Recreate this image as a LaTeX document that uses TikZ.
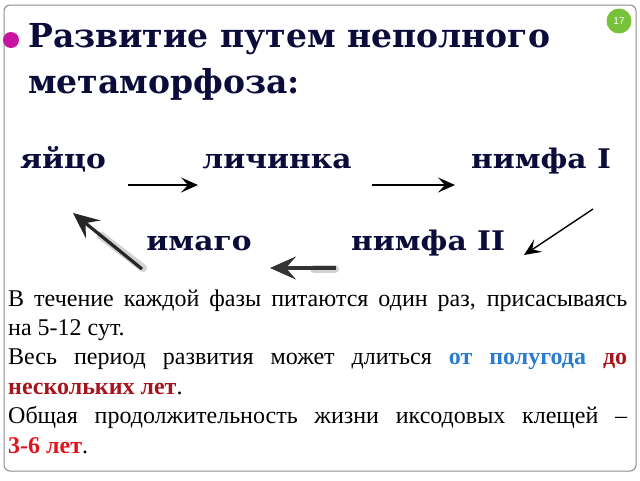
\documentclass[tikz,border=0pt]{standalone}
\usepackage{fontspec}
\setmainfont{Liberation Serif}
\newfontfamily\bodyfont{Liberation Serif}
\newfontfamily\titlefont{DejaVu Serif}
\newfontfamily\numfont{Liberation Sans}
\usetikzlibrary{arrows.meta,calc}
\definecolor{navy}{HTML}{0C0C3A}
\definecolor{framegray}{HTML}{8C8C8C}
\definecolor{dotpink}{HTML}{C8149E}
\definecolor{badgegreen}{HTML}{78C13A}
\definecolor{blueword}{HTML}{2A7CD0}
\definecolor{darkredword}{HTML}{A8141C}
\definecolor{redword}{HTML}{E0141C}
\tikzset{
  titletext/.style={anchor=base west, inner sep=0pt, text=navy, font=\titlefont\bfseries\fontsize{33}{40}\selectfont},
  stagetext/.style={anchor=base, inner sep=0pt, text=navy, transform shape, xscale=1.1, font=\titlefont\bfseries\fontsize{27}{30}\selectfont},
  thinarrow/.style={line width=1.4pt, -{Stealth[length=17pt,width=15pt,inset=7pt]}},
  shadowshaft/.style={line width=8pt, black!35, opacity=0.5, line cap=round},
  thickarrow/.style={line width=3.2pt, -{Stealth[length=26pt,width=23pt,inset=10pt]}},
}
\begin{document}
\begin{tikzpicture}[x=1pt,y=-1pt]
\useasboundingbox (0,0) rectangle (640,480);
\fill[white] (0,0) rectangle (640,480);
\draw[framegray, line width=1pt, rounded corners=6pt] (4,5) rectangle (636,471);
% badge
\node[circle, fill=badgegreen, minimum size=25pt, inner sep=0pt, text=white, font=\numfont\fontsize{10}{12}\selectfont] (badge) at (619,21) {17};
% bullet
\fill[dotpink] (11,40) circle (8pt);
% title
\node[titletext] (title1) at (28,47) {Развитие путем неполного};
\node[titletext] (title2) at (28,93) {метаморфоза:};
% stages
\node[stagetext] (egg) at (63,168) {яйцо};
\node[stagetext] (larva) at (277,168) {личинка};
\node[stagetext] (nymph1) at (541,168) {нимфа I};
\node[stagetext] (imago) at (199,250) {имаго};
\node[stagetext] (nymph2) at (428,250) {нимфа II};
% arrow coordinates
\coordinate (a1s) at (128,185); \coordinate (a1e) at (198,185);
\coordinate (a2s) at (372,185); \coordinate (a2e) at (455,185);
\coordinate (a3s) at (593,209); \coordinate (a3e) at (524,255);
\coordinate (a4s) at (336,268); \coordinate (a4e) at (270,268);
\coordinate (a5s) at (142,269); \coordinate (a5e) at (73,213);
\draw[thinarrow] (a1s) -- (a1e);
\draw[thinarrow] (a2s) -- (a2e);
\draw[thinarrow] (a3s) -- (a3e);
% shadowed arrows
\draw[shadowshaft] ([xshift=-1pt,yshift=-1pt]a4s) -- ([xshift=-22pt,yshift=-1pt]a4s);
\draw[shadowshaft] ([xshift=1pt,yshift=1pt]a5s) -- ($(a5s)!0.6!(a5e)$);
\draw[thickarrow, black!80] (a4s) -- (a4e);
\draw[thickarrow, black!85] (a5s) -- (a5e);
% body
\node[anchor=base west, inner sep=0pt, text width=619pt, align=justify,
      font=\bodyfont\fontsize{24}{29.4}\selectfont] (body) at (8,306)
{\hyphenpenalty=10000 В течение каждой фазы питаются один раз, присасываясь\linebreak на 5-12 сут.\\
Весь период развития может длиться {\bfseries\color{blueword}от полугода} {\bfseries\color{darkredword}до\linebreak нескольких лет}.\\
Общая продолжительность жизни иксодовых клещей –\linebreak {\bfseries\color{redword}3-6 лет}.};
\end{tikzpicture}
\end{document}
